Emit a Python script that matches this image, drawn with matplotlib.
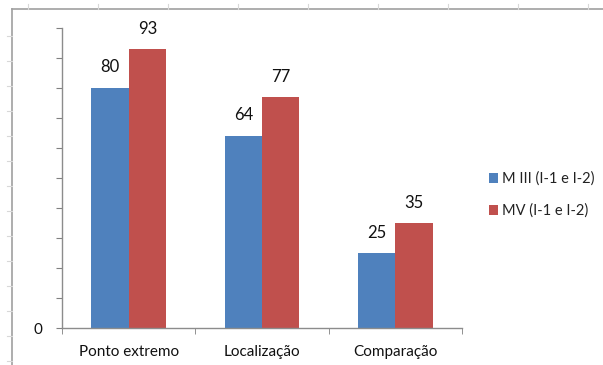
import matplotlib
matplotlib.use('Agg')
import matplotlib.pyplot as plt
from matplotlib.lines import Line2D

plt.rcParams['font.family'] = ['Lato', 'DejaVu Sans']

# dados
categorias = ['Ponto extremo', 'Localização', 'Comparação']
serie_m3 = [80, 64, 25]
serie_mv = [93, 77, 35]
nomes = ['M III (I-1 e I-2)', 'MV (I-1 e I-2)']

AZUL = '#4F81BD'
VERMELHO = '#C0504D'
W, H = 603, 365

fig = plt.figure(figsize=(W / 100, H / 100), dpi=100)
ax = fig.add_axes([62 / W, 1 - 328 / H, 400 / W, 300 / H])

x = list(range(len(categorias)))
larg = 0.28
b1 = ax.bar([i - larg / 2 for i in x], serie_m3, larg, color=AZUL, label=nomes[0])
b2 = ax.bar([i + larg / 2 for i in x], serie_mv, larg, color=VERMELHO, label=nomes[1])

for barras in (b1, b2):
    for r in barras:
        ax.annotate('%d' % r.get_height(), (r.get_x() + r.get_width() / 2, r.get_height()),
                    xytext=(0, 9), textcoords='offset points', ha='center', va='bottom',
                    fontsize=12, color='#111111')

ax.set_xlim(-0.5, 2.5)
ax.set_ylim(0, 100)

# eixo x: marcas nos limites das categorias
ax.set_xticks(x)
ax.set_xticklabels(categorias, fontsize=11, color='#111111')
ax.set_xticks([-0.5, 0.5, 1.5, 2.5], minor=True)
ax.tick_params(axis='x', which='major', length=0, pad=12)
ax.tick_params(axis='x', which='minor', length=4, color='#808080', direction='out')

# eixo y: só o zero tem rótulo
ax.set_yticks(range(0, 101, 10))
ax.set_yticklabels(['0'] + [''] * 10, fontsize=11, color='#111111')
ax.tick_params(axis='y', length=4, color='#808080', direction='out', pad=10)

for lado in ('top', 'right'):
    ax.spines[lado].set_visible(False)
for lado in ('left', 'bottom'):
    ax.spines[lado].set_color('#8c8c8c')
    ax.spines[lado].set_linewidth(1.0)

ax.legend(loc='upper left', bbox_to_anchor=(483 / W, 1 - 166 / H), bbox_transform=fig.transFigure,
          frameon=False, fontsize=10.5, handlelength=0.6, handleheight=0.6, handletextpad=0.3,
          labelspacing=1.2, borderaxespad=0, labelcolor='#222222')

# moldura externa (borda da área do gráfico)
cinza = '#a0a0a0'
fig.add_artist(Line2D([12 / W, 1], [1 - 9 / H, 1 - 9 / H], color=cinza, lw=1.2))
fig.add_artist(Line2D([12 / W, 12 / W], [0, 1 - 9 / H], color=cinza, lw=1.2))
for px in range(28, W, 70):
    fig.add_artist(Line2D([px / W, px / W], [1 - 4 / H, 1 - 9 / H], color='#d8d8d8', lw=0.8))
for py in range(36, H, 25):
    fig.add_artist(Line2D([7 / W, 12 / W], [1 - py / H, 1 - py / H], color='#d8d8d8', lw=0.8))

fig.savefig('out.png', dpi=100)
